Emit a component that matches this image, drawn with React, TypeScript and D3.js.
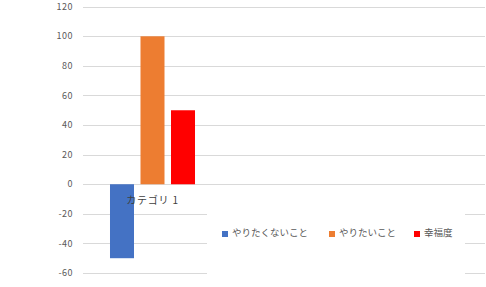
import React from "react";
import * as d3 from "d3";

const categories = ["カテゴリ 1"];
const seriesNames = ["やりたくないこと", "やりたいこと", "幸福度"];
const seriesValues = [[-50], [100], [50]];
const seriesColors = ["#4472C4", "#ED7D31", "#FF0000"];
const yTicks = [-60, -40, -20, 0, 20, 40, 60, 80, 100, 120];

const W = 486;
const H = 287;
const FONT = "'Noto Sans CJK JP', 'DejaVu Sans', sans-serif";

export default function App() {
  const y = d3.scaleLinear().domain([-60, 120]).range([273, 6.7]);
  const x0 = d3.scaleBand<string>().domain(categories).range([83, 222]).paddingInner(0).paddingOuter(0.3176);
  const x1 = d3.scaleBand<string>().domain(seriesNames).range([0, x0.bandwidth()]).paddingInner(0.213).paddingOuter(0);

  const gridL = 83;
  const gridR = 485;
  const legend = { x: 207, y: 187, w: 258, h: 100 };

  const legendX = [222, 329, 414];
  const legendY = 233;

  return (
    <svg width={W} height={H} style={{ position: "absolute", left: 0, top: 0, background: "#fff" }}>
      {yTicks.map((t) => (
        <g key={t}>
          <line x1={gridL} x2={gridR} y1={Math.round(y(t)) + 0.5} y2={Math.round(y(t)) + 0.5} stroke="#D9D9D9" strokeWidth={1} />
          <text x={73} y={y(t)} dy="0.35em" textAnchor="end" fontSize={9} letterSpacing={0.5} fill="#595959" fontFamily={FONT}>
            {t}
          </text>
        </g>
      ))}
      {categories.map((c, ci) => (
        <g key={c}>
          {seriesNames.map((s, si) => {
            const v = seriesValues[si][ci];
            const bx = (x0(c) ?? 0) + (x1(s) ?? 0);
            return (
              <rect
                key={s}
                x={bx}
                y={Math.min(y(v), y(0))}
                width={x1.bandwidth()}
                height={Math.abs(y(v) - y(0))}
                fill={seriesColors[si]}
              />
            );
          })}
        </g>
      ))}
      {categories.map((c) => (
        <text key={c} x={(x0(c) ?? 0) + x0.bandwidth() / 2} y={200} dy="0.35em" textAnchor="middle" fontSize={10} letterSpacing={0.8} fill="#404040" fontFamily={FONT}>
          {c}
        </text>
      ))}
      <rect x={legend.x} y={legend.y} width={legend.w} height={legend.h} fill="#fff" />
      {seriesNames.map((s, i) => (
        <g key={s}>
          <rect x={legendX[i]} y={legendY - 2} width={6} height={6} fill={seriesColors[i]} />
          <text x={legendX[i] + 10} y={legendY} dy="0.35em" fontSize={9.5} fill="#595959" fontFamily={FONT}>
            {s}
          </text>
        </g>
      ))}
    </svg>
  );
}
